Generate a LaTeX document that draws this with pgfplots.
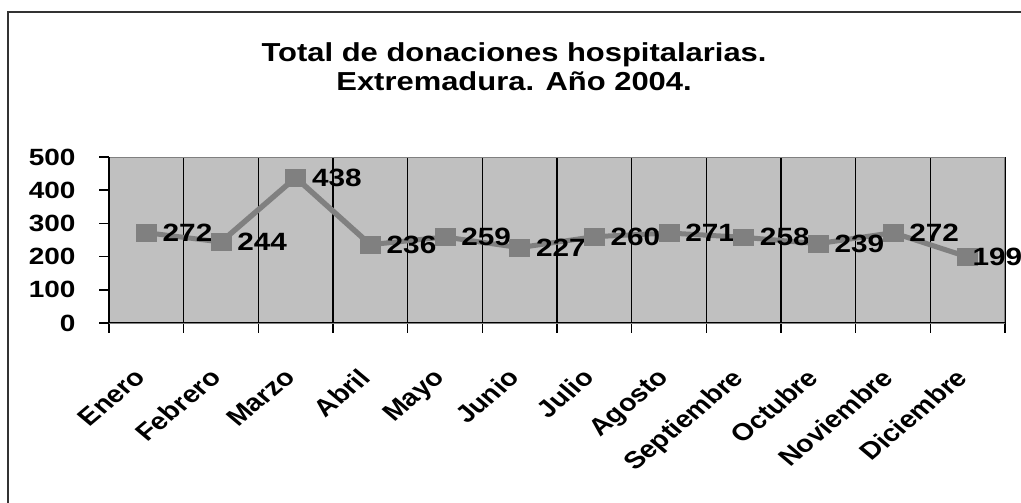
\documentclass[border=0pt]{standalone}
\usepackage{fontspec}
\setmainfont{Liberation Sans}
\usepackage{graphicx}
\usepackage{pgfplots}
\usepackage{pgfplotstable}
\pgfplotsset{compat=1.18}
\definecolor{plotbg}{HTML}{C0C0C0}
\definecolor{linegray}{HTML}{808080}
\newcommand\lab{\fontsize{24}{24}\selectfont\bfseries}
% month, donations, label offset
\pgfplotstableread{
x y dx
1 272 13.5
2 244 13.5
3 438 13.5
4 236 13.5
5 259 13.5
6 227 13.5
7 260 13.5
8 271 13.5
9 258 13.5
10 239 13.5
11 272 13.5
12 199 4
}\donaciones
\begin{document}
% the original chart is stretched 1.19 times in width
\scalebox{1.19}[1]{%
\begin{tikzpicture}
\path[use as bounding box, fill=white] (0,0) rectangle (858pt,503pt);
\draw[line width=1.3pt, black!80] (6.7pt,0) -- (6.7pt,491pt) -- (858pt,491pt);
\node[font=\fontsize{26}{30}\selectfont\bfseries, anchor=base, inner sep=0pt] at (432pt,441pt) {Total de donaciones hospitalarias.};
\node[font=\fontsize{26}{30}\selectfont\bfseries, anchor=base, inner sep=0pt] at (432pt,412pt) {Extremadura. Año 2004.};
\begin{axis}[
  at={(91.6pt,180pt)}, anchor=south west,
  scale only axis, width=752.9pt, height=166pt,
  xmin=0.5, xmax=12.5, ymin=0, ymax=500,
  ytick={0,100,...,500},
  xtick={1,...,12},
  xticklabels={Enero,Febrero,Marzo,Abril,Mayo,Junio,Julio,Agosto,Septiembre,Octubre,Noviembre,Diciembre},
  minor xtick={0.5,1.5,...,12.5},
  xminorgrids,
  minor grid style={black, line width=1.3pt},
  tick pos=left,
  tick align=outside,
  major tick length=8pt,
  minor tick length=10pt,
  major x tick style={draw=none},
  minor x tick style={black, line width=1.3pt},
  ytick style={black, line width=1.5pt},
  axis line style={linegray, line width=0.8pt},
  axis background/.style={fill=plotbg},
  /pgf/number format/assume math mode=true,
  yticklabel style={font=\fontsize{23.5}{24}\selectfont\bfseries, anchor=east, inner sep=0pt, xshift=-20pt},
  xticklabel style={font=\lab, xshift=-11pt, yshift=-36pt, rotate=45, anchor=north east, inner sep=0pt},
  nodes near coords,
  visualization depends on={\thisrow{dx} \as \dx},
  every node near coord/.append style={anchor=west, xshift=\dx pt, inner sep=0pt, text=black, font=\fontsize{25}{25}\selectfont\bfseries},
]
\addplot[linegray, line width=5pt, mark=square*, mark size=8.3pt, mark options={solid, fill=linegray, draw=linegray, line width=0.5pt}] table[x=x, y=y] {\donaciones};
\draw[black, line width=1.3pt] (rel axis cs:0,1) -- (rel axis cs:0,0) -- (rel axis cs:1,0);
\end{axis}
\end{tikzpicture}%
}
\end{document}
